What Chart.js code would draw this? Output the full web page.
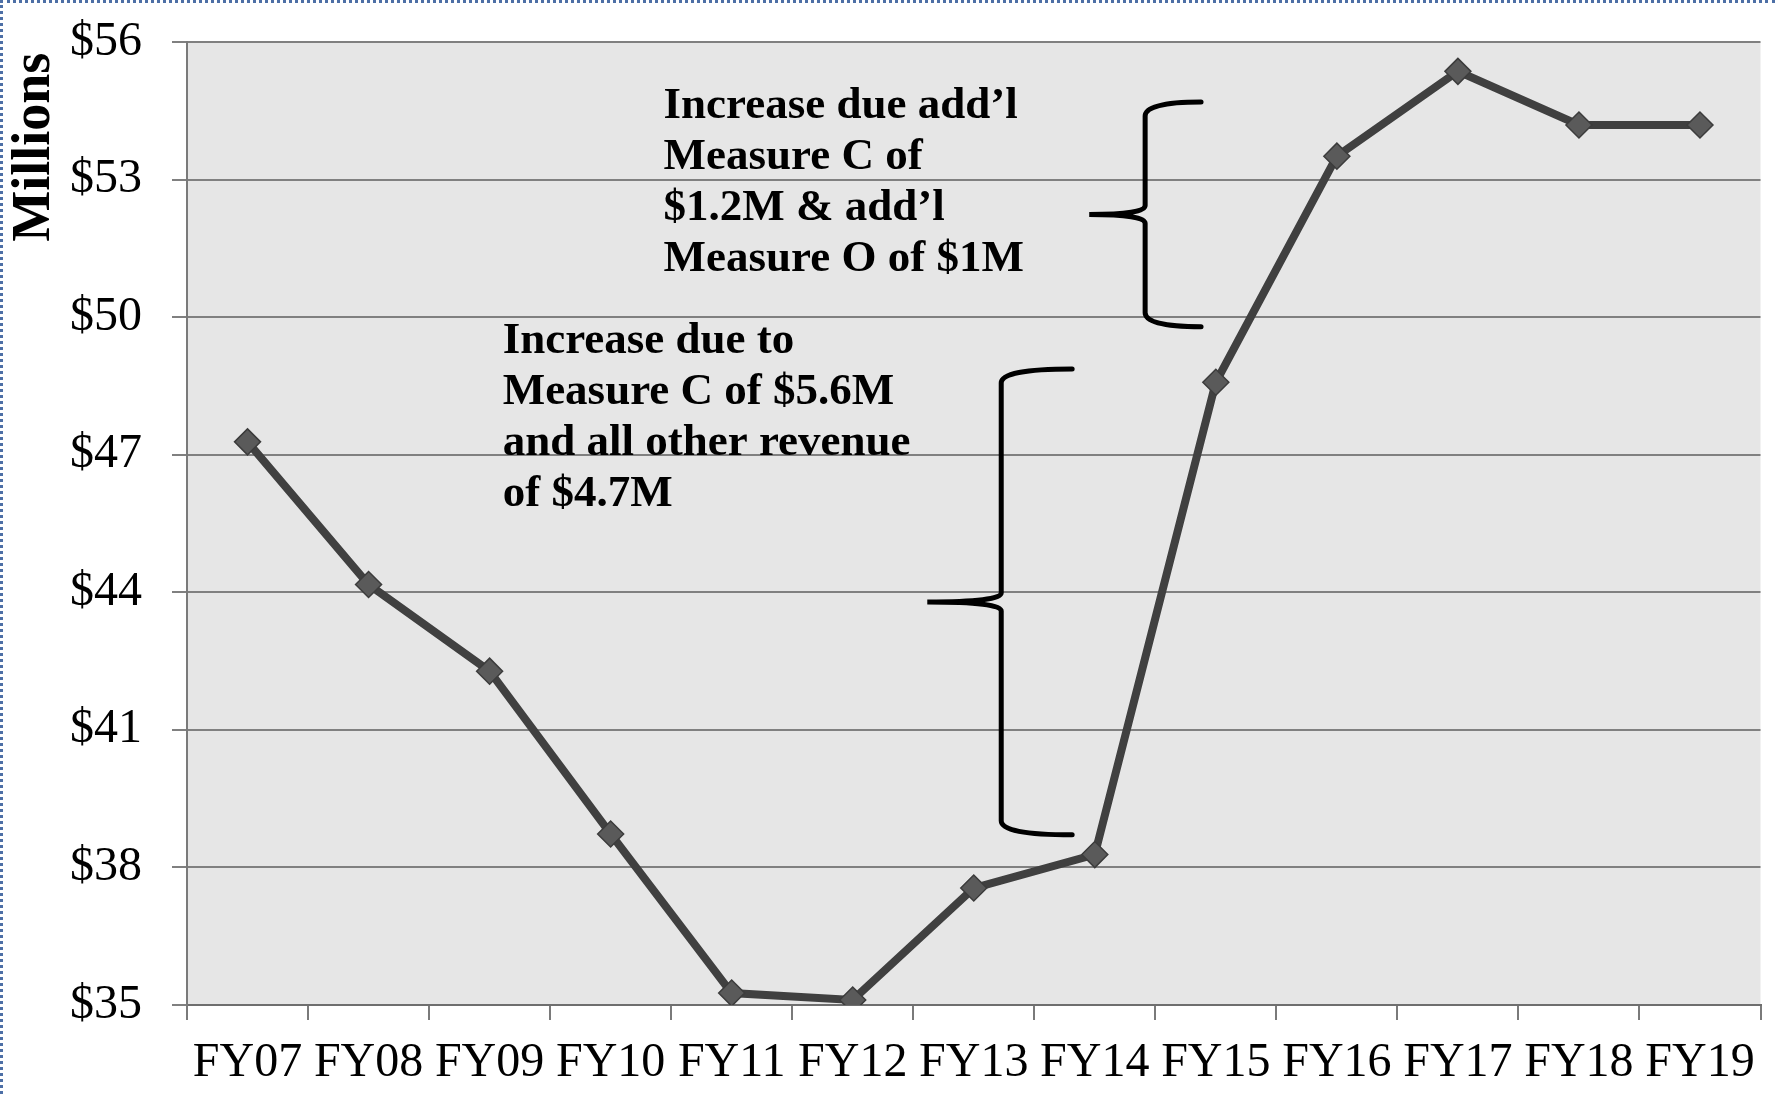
<!DOCTYPE html>
<html>
<head>
<meta charset="utf-8">
<script src="https://cdn.jsdelivr.net/npm/chart.js@4/dist/chart.umd.min.js"></script>
<style>
  body { margin: 0; background: #fff; }
  #wrap { position: relative; width: 1775px; height: 1094px; }
  #frame {
    position: absolute; left: 0; top: 0; right: 0; bottom: 0;
    border-top: 3px dotted #4d6fa6; border-left: 3px dotted #4d6fa6;
    pointer-events: none;
  }
</style>
</head>
<body>
<div id="wrap">
  <canvas id="revenueChart"></canvas>
  <div id="frame"></div>
</div>
<script>
// fiscal years and revenue (in $ millions)
const years = ["FY07", "FY08", "FY09", "FY10", "FY11", "FY12", "FY13", "FY14", "FY15", "FY16", "FY17", "FY18", "FY19"];
const revenue = [47.28, 44.17, 42.28, 38.73, 35.26, 35.11, 37.55, 38.28, 48.58, 53.51, 55.36, 54.19, 54.19];

// y axis ticks
const yTicks = [35, 38, 41, 44, 47, 50, 53, 56];

// notes: x in category index units, y = value of first text baseline
const upperNote = ["Increase due add\u2019l", "Measure C of", "$1.2M & add\u2019l", "Measure O of $1M"];
const upperNoteAt = [3.437, 54.34];
const lowerNote = ["Increase due to", "Measure C of $5.6M", "and all other revenue", "of $4.7M"];
const lowerNoteAt = [2.108, 49.22];

// braces: [x of stem, x of tip, x of hook ends, top value, bottom value]
const upperBrace = [7.416, 6.954, 7.878, 54.69, 49.79];
const lowerBrace = [6.227, 5.616, 6.813, 48.87, 38.71];

const serif = "'Liberation Serif', 'Times New Roman', serif";

const plotBackground = {
  id: "plotBackground",
  beforeDraw(chart) {
    const a = chart.chartArea;
    const ctx = chart.ctx;
    ctx.save();
    ctx.fillStyle = "#e6e6e6";
    ctx.fillRect(a.left, a.top, a.right - a.left, a.bottom - a.top);
    ctx.restore();
  }
};

function drawNote(chart, lines, at) {
  const x = chart.scales.x.getPixelForValue(at[0]);
  const y = chart.scales.y.getPixelForValue(at[1]);
  const ctx = chart.ctx;
  ctx.save();
  ctx.font = "bold 45px " + serif;
  ctx.fillStyle = "#000";
  ctx.textAlign = "left";
  ctx.textBaseline = "alphabetic";
  lines.forEach((t, i) => ctx.fillText(t, x, y + i * 51));
  ctx.restore();
}

function drawBrace(chart, b) {
  const sx = chart.scales.x, sy = chart.scales.y;
  const xs = sx.getPixelForValue(b[0]);
  const xt = sx.getPixelForValue(b[1]);
  const xe = sx.getPixelForValue(b[2]);
  const yt = sy.getPixelForValue(b[3]);
  const yb = sy.getPixelForValue(b[4]);
  const ym = (yt + yb) / 2;
  const ctx = chart.ctx;
  ctx.save();
  ctx.strokeStyle = "#000";
  ctx.lineWidth = 5;
  ctx.lineCap = "round";
  ctx.beginPath();
  ctx.moveTo(xe, yt);
  ctx.quadraticCurveTo(xs, yt, xs, yt + 14);
  ctx.lineTo(xs, ym - 9);
  ctx.quadraticCurveTo(xs, ym, xt, ym);
  ctx.quadraticCurveTo(xs, ym, xs, ym + 9);
  ctx.lineTo(xs, yb - 14);
  ctx.quadraticCurveTo(xs, yb, xe, yb);
  ctx.stroke();
  ctx.restore();
}

const notes = {
  id: "notes",
  afterDatasetsDraw(chart) {
    drawNote(chart, upperNote, upperNoteAt);
    drawNote(chart, lowerNote, lowerNoteAt);
    drawBrace(chart, upperBrace);
    drawBrace(chart, lowerBrace);
  }
};

new Chart(document.getElementById("revenueChart"), {
  type: "line",
  data: {
    labels: years,
    datasets: [{
      label: "Revenue",
      data: revenue,
      borderColor: "#404040",
      borderWidth: 8,
      tension: 0,
      pointStyle: "rectRot",
      pointRadius: 13,
      pointBackgroundColor: "#5a5a5a",
      pointBorderColor: "#3c3c3c",
      pointBorderWidth: 1.5
    }]
  },
  options: {
    responsive: true,
    maintainAspectRatio: false,
    animation: false,
    devicePixelRatio: 1,
    layout: { padding: { top: 42, right: 13, bottom: 0, left: 0 } },
    plugins: {
      legend: { display: false },
      tooltip: { enabled: false }
    },
    scales: {
      x: {
        offset: true,
        afterFit(scale) { scale.height = 89; },
        grid: {
          offset: true,
          drawOnChartArea: false,
          drawTicks: true,
          tickLength: 15,
          color: "#7a7a7a",
          lineWidth: 2
        },
        border: { display: true, color: "#6e6e6e", width: 2 },
        ticks: {
          color: "#000",
          padding: 15,
          maxRotation: 0,
          autoSkip: false,
          font: { family: serif, size: 48 }
        }
      },
      y: {
        min: 35,
        max: 56,
        afterFit(scale) {
          scale.width = 187;
          scale.paddingTop = 0;
          scale.paddingBottom = 0;
        },
        afterBuildTicks(scale) { scale.ticks = yTicks.map(v => ({ value: v })); },
        grid: {
          color: "#808080",
          lineWidth: 2,
          drawTicks: true,
          tickLength: 15
        },
        border: { display: true, color: "#7a7a7a", width: 2 },
        ticks: {
          color: "#000",
          padding: 30,
          font: { family: serif, size: 48 },
          callback: v => "$" + v
        },
        title: {
          display: true,
          text: "Millions\u2009",
          align: "end",
          color: "#000",
          padding: { top: 3, bottom: 0 },
          font: { family: serif, size: 54, weight: "bold" }
        }
      }
    }
  },
  plugins: [plotBackground, notes]
});
</script>
</body>
</html>
